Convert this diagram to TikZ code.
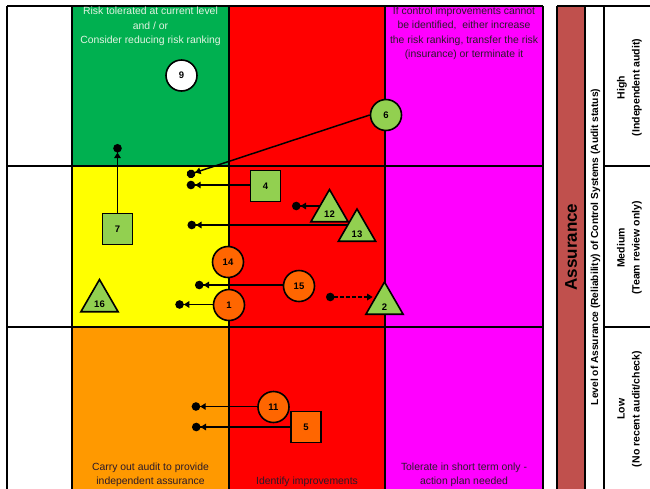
\documentclass[tikz,border=0pt]{standalone}
\usepackage{fontspec}
\setmainfont{Liberation Sans}
\usetikzlibrary{arrows.meta,shapes.geometric}
\definecolor{cgreen}{HTML}{00B050}
\definecolor{cyellow}{HTML}{FFFF00}
\definecolor{cred}{HTML}{FF0000}
\definecolor{cmag}{HTML}{FF00FF}
\definecolor{corange}{HTML}{FF9900}
\definecolor{cbrown}{HTML}{C0504D}
\definecolor{nodegreen}{HTML}{92D050}
\definecolor{nodeorange}{HTML}{FF6600}
\definecolor{paletext}{HTML}{E2F3E2}
\definecolor{darktext}{HTML}{2A1A2A}
\pgfdeclarelayer{back}
\pgfdeclarelayer{mid}
\pgfsetlayers{back,mid,main}
\tikzset{
  gridline/.style={line width=2.4pt},
  lbl/.style={font=\bfseries\fontsize{9.5}{11}\selectfont},
  circ/.style={circle, draw, line width=1.6pt, minimum size=31pt, inner sep=0pt, lbl},
  sqr/.style={rectangle, draw, line width=1.6pt, minimum width=30pt, minimum height=31pt, inner sep=0pt, lbl},
  tri/.style={regular polygon, regular polygon sides=3, draw, line width=1.6pt, minimum size=43pt, inner sep=0pt, lbl},
  conn/.style={line width=1.5pt, -{Triangle[length=5.5pt,width=6.5pt]Circle[length=8.5pt]}},
  dconn/.style={line width=1.5pt, dash pattern=on 4pt off 2pt, {Circle[length=8.5pt]}-{Triangle[length=5.5pt,width=6.5pt]}},
  celltext/.style={align=center, font=\fontsize{10.4}{14.5}\selectfont},
  sidetext/.style={rotate=90, align=center, font=\bfseries\fontsize{10.5}{15}\selectfont}
}
\newcommand{\trilbl}[1]{\raisebox{-3.5pt}[\height][\depth]{#1}}
\begin{document}
\begin{tikzpicture}[x=1pt,y=-1pt]
\useasboundingbox (0,0) rectangle (650,488);
% ---------- cell fills and grid
\begin{pgfonlayer}{back}
  \fill[white] (0,0) rectangle (650,488);
  \fill[cgreen]  (72,6)   rectangle (229,166);
  \fill[cyellow] (72,166) rectangle (229,327);
  \fill[corange] (72,327) rectangle (229,492);
  \fill[cred]    (229,6)  rectangle (385,492);
  \fill[cmag]    (385,6)  rectangle (543,492);
  \fill[cbrown]  (557,6)  rectangle (585,492);
  \foreach \xx in {7,72,229,385,543}{\draw[gridline] (\xx,6) -- (\xx,492);}
  \foreach \yy in {6,166,327}{\draw[gridline] (7,\yy) -- (543,\yy);}
  \foreach \xx in {557,585,604}{\draw[gridline] (\xx,6) -- (\xx,492);}
  \draw[gridline] (557,6) -- (652,6);
  \draw[gridline] (604,166) -- (652,166);
  \draw[gridline] (604,327) -- (652,327);
\end{pgfonlayer}
% ---------- cell texts
\node[celltext, text=paletext] (tgreen) at (150.5,26.5) {Risk tolerated at current level\\and / or\\Consider reducing risk ranking};
\node[celltext, text=darktext] (tmag) at (464,33.5) {If control improvements cannot\\be identified,\ \ either increase\\the risk ranking, transfer the risk\\(insurance) or terminate it};
\node[celltext, text=darktext] (torange) at (150.5,475) {Carry out audit to provide\\independent assurance};
\node[celltext, text=darktext] (tred) at (307,482) {Identify improvements};
\node[celltext, text=darktext] (tmag2) at (464,475) {Tolerate in short term only -\\action plan needed};
% ---------- side labels
\node[rotate=90, font=\bfseries\fontsize{17}{20}\selectfont] (tass) at (571,247) {Assurance};
\node[rotate=90, font=\bfseries\fontsize{10.2}{12}\selectfont] (tlevel) at (595.5,247) {Level of Assurance (Reliability) of Control Systems (Audit status)};
\node[sidetext] (thigh) at (629.5,87.5) {High\\(Independent audit)};
\node[sidetext] (tmed) at (629.5,248) {Medium\\(Team review only)};
\node[sidetext] (tlow) at (629.5,409) {Low\\(No recent audit/check)};
% ---------- risk nodes
\node[circ, fill=white] (n9) at (181.5,75.5) {9};
\node[circ, fill=nodegreen] (n6) at (386,115) {6};
\node[sqr, fill=nodegreen] (n4) at (265.5,186) {4};
\node[sqr, fill=nodegreen] (n7) at (117.5,229) {7};
\node[tri, fill=nodegreen] (n12) at (329.5,211) {\trilbl{12}};
\node[tri, fill=nodegreen] (n13) at (357,230.5) {\trilbl{13}};
\node[tri, fill=nodegreen] (n16) at (99.5,301) {\trilbl{16}};
\node[tri, fill=nodegreen] (n2) at (384.5,303.5) {\trilbl{2}};
\node[circ, fill=nodeorange] (n14) at (228,262) {14};
\node[circ, fill=nodeorange] (n15) at (299,286) {15};
\node[circ, fill=nodeorange] (n1) at (229,305) {1};
\node[circ, fill=nodeorange] (n11) at (273.5,407) {11};
\node[sqr, fill=nodeorange] (n5) at (306,427) {5};
% ---------- connector ends
\coordinate (d7) at (117.5,144);
\coordinate (d6) at (187,175.2);
\coordinate (d4) at (186.7,185);
\coordinate (d13) at (187.5,225);
\coordinate (d12) at (292,206);
\coordinate (d15) at (195,285);
\coordinate (d1) at (175.3,304.5);
\coordinate (d11) at (191.7,406.5);
\coordinate (d5) at (192,427);
\coordinate (d2) at (326,297);
% ---------- connectors
\begin{pgfonlayer}{mid}
  \draw[conn] (n7.north) -- (d7);
  \draw[conn] (n6.west) -- (d6);
  \draw[conn] (n4 |- d4) -- (d4);
  \draw[conn] (n13 |- d13) -- (d13);
  \draw[conn] (n12 |- d12) -- (d12);
  \draw[conn] (n15 |- d15) -- (d15);
  \draw[conn] (n1 |- d1) -- (d1);
  \draw[conn] (n11 |- d11) -- (d11);
  \draw[conn] (n5 |- d5) -- (d5);
  \draw[dconn] (d2) -- ([xshift=1.5pt]n2.west |- d2);
\end{pgfonlayer}
\end{tikzpicture}
\end{document}
